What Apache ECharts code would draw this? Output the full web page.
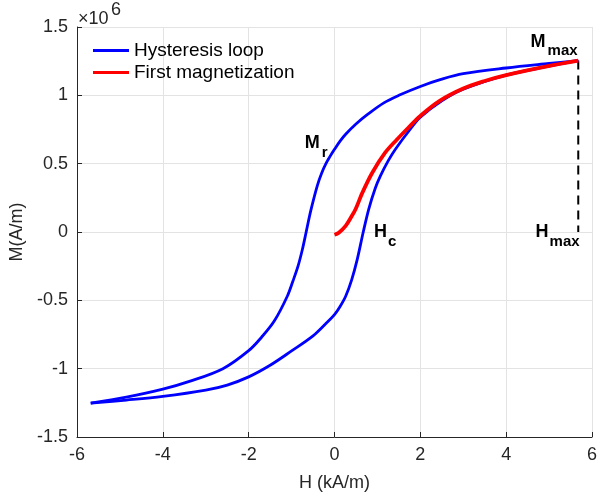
<!DOCTYPE html>
<html><head><meta charset="utf-8">
<script src="https://cdn.jsdelivr.net/npm/echarts@6/dist/echarts.min.js"></script>
<style>html,body{margin:0;padding:0;background:#fff}#c{width:600px;height:497px}</style>
</head><body><div id="c"></div>
<script>
// ---- data (H in kA/m, M in 10^6 A/m) ----
const xTicks = [-6, -4, -2, 0, 2, 4, 6];
const yTicks = [-1.5, -1, -0.5, 0, 0.5, 1, 1.5];

// descending branch of the hysteresis loop (from +Hmax to -Hmax)
const upperH = [5.68, 5.0, 4.0, 3.0, 2.5, 2.0, 1.5, 1.15, 0.77, 0.5, 0.26, 0.13, 0.0, -0.1, -0.2, -0.3, -0.4, -0.55, -0.66, -0.75, -0.85, -0.97, -1.1, -1.4, -1.7, -2.0, -2.6, -3.4, -4.0, -4.85, -5.68];
const upperM = [1.254, 1.233, 1.200, 1.158, 1.118, 1.065, 1.0, 0.945, 0.86, 0.79, 0.715, 0.665, 0.605, 0.555, 0.5, 0.43, 0.34, 0.16, 0.0, -0.13, -0.25, -0.36, -0.47, -0.65, -0.77, -0.868, -1.0, -1.095, -1.15, -1.208, -1.252];

// ascending branch of the hysteresis loop (from -Hmax to +Hmax)
const lowerH = [-5.68, -4.85, -4.0, -3.0, -2.5, -2.0, -1.5, -1.0, -0.5, -0.2, 0.0, 0.13, 0.26, 0.4, 0.53, 0.67, 0.8, 0.95, 1.07, 1.25, 1.415, 1.76, 2.0, 2.5, 3.0, 4.0, 5.0, 5.68];
const lowerM = [-1.252, -1.23, -1.203, -1.157, -1.12, -1.06, -0.975, -0.87, -0.76, -0.67, -0.605, -0.545, -0.47, -0.35, -0.2, 0.0, 0.17, 0.32, 0.41, 0.52, 0.604, 0.75, 0.84, 0.96, 1.045, 1.148, 1.213, 1.254];

// first magnetization curve
const firstH = [0.0, 0.1, 0.26, 0.4, 0.49, 0.65, 0.88, 1.18, 1.45, 1.72, 2.0, 2.45, 3.0, 3.5, 4.0, 4.92, 5.68];
const firstM = [-0.02, -0.005, 0.045, 0.115, 0.166, 0.288, 0.434, 0.58, 0.675, 0.763, 0.85, 0.96, 1.05, 1.105, 1.148, 1.21, 1.254];

const hMax = 5.68;
const mMax = 1.254;

// annotation anchors (data coords of the main letter's left/baseline)
const annotations = [
  { main: 'M', sub: 'r',   at: [-0.692, 0.612] },
  { main: 'H', sub: 'c',   at: [0.923, -0.038] },
  { main: 'M', sub: 'max', at: [4.57, 1.356] },
  { main: 'H', sub: 'max', at: [4.685, -0.038] }
];

// ---- chart ----
const FONT = '"Liberation Sans", Arial, Helvetica, sans-serif';
const TXT = '#262626';
const pair = (hs, ms) => hs.map((h, i) => [h, ms[i]]);

const chart = echarts.init(document.getElementById('c'), null, { renderer: 'canvas' });

const axisCommon = {
  type: 'value',
  axisLine: { show: true, onZero: false, lineStyle: { color: TXT, width: 1 } },
  axisTick: { show: true, inside: true, length: 5, lineStyle: { color: TXT, width: 1 } },
  axisLabel: { color: TXT, fontSize: 18, fontFamily: FONT },
  splitLine: { show: true, lineStyle: { color: '#e3e3e3', width: 1 } },
  nameTextStyle: { color: TXT, fontSize: 18, fontFamily: FONT }
};

const lineCommon = { type: 'line', symbol: 'none', showSymbol: false, smooth: 0.35 };

chart.setOption({
  animation: false,
  backgroundColor: '#fff',
  grid: { left: 77, right: 3, top: 27, bottom: 59, containLabel: false },
  xAxis: Object.assign({}, axisCommon, {
    min: xTicks[0], max: xTicks[xTicks.length - 1], interval: 2,
    name: 'H (kA/m)', nameLocation: 'middle', nameGap: 37,
    axisLabel: Object.assign({}, axisCommon.axisLabel, { margin: 9 })
  }),
  yAxis: Object.assign({}, axisCommon, {
    min: yTicks[0], max: yTicks[yTicks.length - 1], interval: 0.5,
    name: 'M(A/m)', nameLocation: 'middle', nameGap: 46, nameRotate: 90,
    axisLabel: Object.assign({}, axisCommon.axisLabel, { margin: 9, formatter: v => String(v) })
  }),
  legend: {
    data: [{ name: 'Hysteresis loop', icon: 'rect' }, { name: 'First magnetization', icon: 'rect' }],
    orient: 'vertical', left: 93, top: 41, padding: 0,
    itemWidth: 36, itemHeight: 3, itemGap: 3,
    textStyle: { color: '#000', fontSize: 19, fontFamily: FONT }
  },
  series: [
    Object.assign({}, lineCommon, {
      name: 'Hysteresis loop', data: pair(upperH, upperM),
      lineStyle: { color: '#0000ff', width: 2.8 }, itemStyle: { color: '#0000ff' }, z: 2
    }),
    Object.assign({}, lineCommon, {
      name: 'Hysteresis loop', data: pair(lowerH, lowerM),
      lineStyle: { color: '#0000ff', width: 2.8 }, itemStyle: { color: '#0000ff' }, z: 2
    }),
    Object.assign({}, lineCommon, {
      name: 'First magnetization', data: pair(firstH, firstM),
      lineStyle: { color: '#ff0000', width: 3.8 }, itemStyle: { color: '#ff0000' }, z: 3
    }),
    {
      name: 'Hmax', type: 'line', data: [[hMax, mMax], [hMax, 0]],
      symbol: 'none', lineStyle: { color: '#000', width: 2, type: [9, 6] }, z: 1
    }
  ]
});

// annotations and exponent, positioned through the axes
const g = [];
annotations.forEach(a => {
  const p = chart.convertToPixel({ gridIndex: 0 }, a.at);
  const off = a.main === 'M' ? 17 : 14;
  g.push({ type: 'text', silent: true, z: 10,
    style: { text: a.main, x: p[0], y: p[1] + 4, verticalAlign: 'bottom', align: 'left',
      font: 'bold 18px ' + FONT, fill: '#000' } });
  g.push({ type: 'text', silent: true, z: 10,
    style: { text: a.sub, x: p[0] + off, y: p[1] + 9 + 3, verticalAlign: 'bottom', align: 'left',
      font: 'bold 15px ' + FONT, fill: '#000' } });
});
g.push({ type: 'text', silent: true, style: { text: '\u00d710', x: 78, y: 28, verticalAlign: 'bottom', font: '18px ' + FONT, fill: TXT } });
g.push({ type: 'text', silent: true, style: { text: '6', x: 111, y: 19, verticalAlign: 'bottom', font: '18px ' + FONT, fill: TXT } });
chart.setOption({ graphic: g });
</script>
</body></html>
